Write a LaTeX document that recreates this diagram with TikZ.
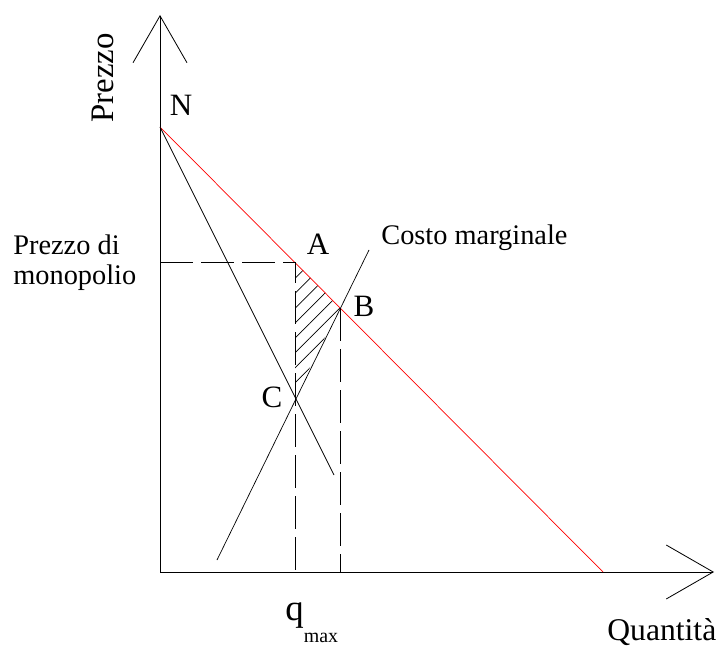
\documentclass[tikz,border=0pt]{standalone}
\usepackage{fontspec}
\setmainfont{Liberation Serif}
\usepackage{tikz}
\usetikzlibrary{arrows.meta,patterns.meta}
\tikzset{
  lab/.style={inner sep=0pt,font=\fontsize{26.5}{28}\selectfont},
  txt/.style={inner sep=0pt,font=\fontsize{24.2}{25.6}\selectfont},
  guide/.style={dash pattern=on 28pt off 7pt,line width=0.7pt},
  axis/.style={line width=0.7pt,-{Straight Barb[length=40pt,width=46pt,line width=0.7pt]}}
}

\begin{document}
\begin{tikzpicture}[x=0.03cm,y=-0.03cm,line width=0.6pt]
\useasboundingbox (0,0) rectangle (721,648);
\coordinate (O) at (160,572);
\coordinate (Ytip) at (160,15);
\coordinate (Xtip) at (714,572);
\coordinate (N) at (160,127);
\coordinate (Dend) at (603,572);
\coordinate (MRend) at (334,475);
\coordinate (MCbot) at (217,560);
\coordinate (MCtop) at (369,250);
\coordinate (A) at (295,262);
\coordinate (B) at (340,308);
\coordinate (C) at (295,397);
\coordinate (Pm) at (160,262);
\coordinate (qA) at (295,572);
\coordinate (qB) at (340,572);
\fill[pattern={Lines[angle=45,distance=9pt,line width=0.6pt]}] (A) -- (B) -- (C) -- cycle;
\draw[axis] (O) -- (Ytip);
\draw[axis] (O) -- (Xtip);
\draw[red] (N) -- (Dend);
\draw (N) -- (MRend);
\draw (MCbot) -- (MCtop);
\draw[guide] (Pm) -- (A) -- (qA);
\draw[guide] (B) -- (qB);
\node[lab] (Nl) at (181,105) {N};
\node[lab] (Al) at (318,244) {A};
\node[lab] (Bl) at (364,306) {B};
\node[lab] (Cl) at (272,397) {C};
\node[lab,rotate=90,font=\fontsize{28}{30}\selectfont] (ylab) at (103,78) {Prezzo};
\node[txt,align=left,anchor=north west] (pm) at (13,234) {Prezzo di\\monopolio};
\node[txt,anchor=base west] (mc) at (381,245) {Costo marginale};
\node[inner sep=0pt,anchor=base west] (qmax) at (285,620)
  {\fontsize{31.5}{32}\selectfont q\raisebox{-19pt}{\fontsize{17}{17}\selectfont max}};
\node[lab,anchor=base west,font=\fontsize{27}{28}\selectfont] (xlab) at (607,640) {Quantità};
\end{tikzpicture}
\end{document}
